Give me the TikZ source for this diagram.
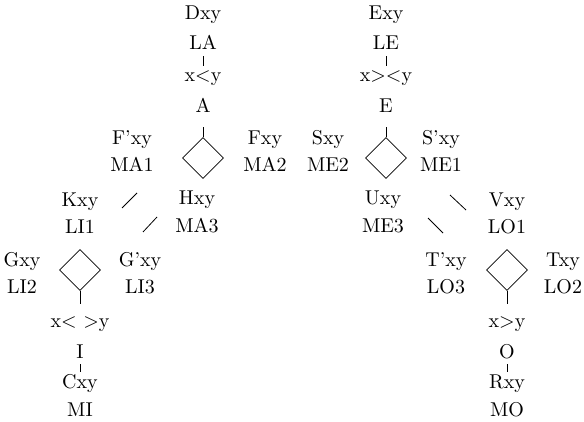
\documentclass[tikz,border=0pt]{standalone}
\usepackage{tikz}
\usetikzlibrary{shapes.geometric}

\begin{document}
\begin{tikzpicture}[
  x=0.5pt, y=-0.5pt,
  lbl/.style={inner xsep=1pt, inner ysep=1pt, text height=7pt, text depth=2pt, font=\normalsize},
  dia/.style={draw, diamond, aspect=1, inner sep=0pt, minimum width=20.5pt, minimum height=20.5pt, line width=0.4pt},
  stem/.style={line width=0.4pt, shorten >=4pt},
  tick/.style={line width=0.4pt}
]
\useasboundingbox (0,0) rectangle (584,422);

% upper left group
\node[lbl] (dxy) at (203, 15) {Dxy};
\node[lbl] (la) at (203, 45) {LA};
\node[lbl] (xla) at (203, 77) {x$<$y};
\node[lbl] (a) at (203, 108) {A};
\node[dia] (da) at (203, 158) {};
\node[lbl] (fpxy) at (132, 140) {F'xy};
\node[lbl] (ma1) at (132, 167) {MA1};
\node[lbl] (fxy) at (265, 140) {Fxy};
\node[lbl] (ma2) at (265, 167) {MA2};
\node[lbl] (hxy) at (197, 200) {Hxy};
\node[lbl] (ma3) at (197, 228) {MA3};

\draw[tick] (la) -- (xla);
\draw[stem] (da.north) -- (a);

% upper right group
\node[lbl] (exy) at (386, 15) {Exy};
\node[lbl] (le) at (386, 45) {LE};
\node[lbl] (xle) at (386, 77) {x$><$y};
\node[lbl] (e) at (386, 108) {E};
\node[dia] (de) at (386, 158) {};
\node[lbl] (sxy) at (328, 140) {Sxy};
\node[lbl] (me2) at (328, 167) {ME2};
\node[lbl] (spxy) at (441, 140) {S'xy};
\node[lbl] (me1) at (441, 167) {ME1};
\node[lbl] (uxy) at (383, 200) {Uxy};
\node[lbl] (me3) at (383, 228) {ME3};

\draw[tick] (le) -- (xle);
\draw[stem] (de.north) -- (e);

% lower left group
\node[lbl] (kxy) at (80, 202) {Kxy};
\node[lbl] (li1) at (80, 229) {LI1};
\node[dia] (di) at (80, 270) {};
\node[lbl] (gxy) at (22, 262) {Gxy};
\node[lbl] (li2) at (22, 289) {LI2};
\node[lbl] (gpxy) at (140, 262) {G'xy};
\node[lbl] (li3) at (140, 289) {LI3};
\node[lbl] (xli) at (80, 323) {x$<$\ $>$y};
\node[lbl] (i) at (80, 353) {I};
\node[lbl] (cxy) at (80, 383) {Cxy};
\node[lbl] (mi) at (80, 411) {MI};

\draw[stem] (di.south) -- (xli);
\draw[tick] (i) -- (cxy);

% lower right group
\node[lbl] (vxy) at (507, 202) {Vxy};
\node[lbl] (lo1) at (507, 229) {LO1};
\node[dia] (do) at (507, 270) {};
\node[lbl] (tpxy) at (446, 262) {T'xy};
\node[lbl] (lo3) at (446, 289) {LO3};
\node[lbl] (txy) at (563, 262) {Txy};
\node[lbl] (lo2) at (563, 289) {LO2};
\node[lbl] (xlo) at (507, 323) {x$>$y};
\node[lbl] (o) at (507, 353) {O};
\node[lbl] (rxy) at (507, 383) {Rxy};
\node[lbl] (mo) at (507, 411) {MO};

\draw[stem] (do.south) -- (xlo);
\draw[tick] (o) -- (rxy);

% slant marks
\draw[tick] (122, 208) -- (137, 193);
\draw[tick] (143, 232) -- (157, 217);
\draw[tick] (450, 195) -- (466, 210);
\draw[tick] (428, 218) -- (443, 233);
\end{tikzpicture}
\end{document}
